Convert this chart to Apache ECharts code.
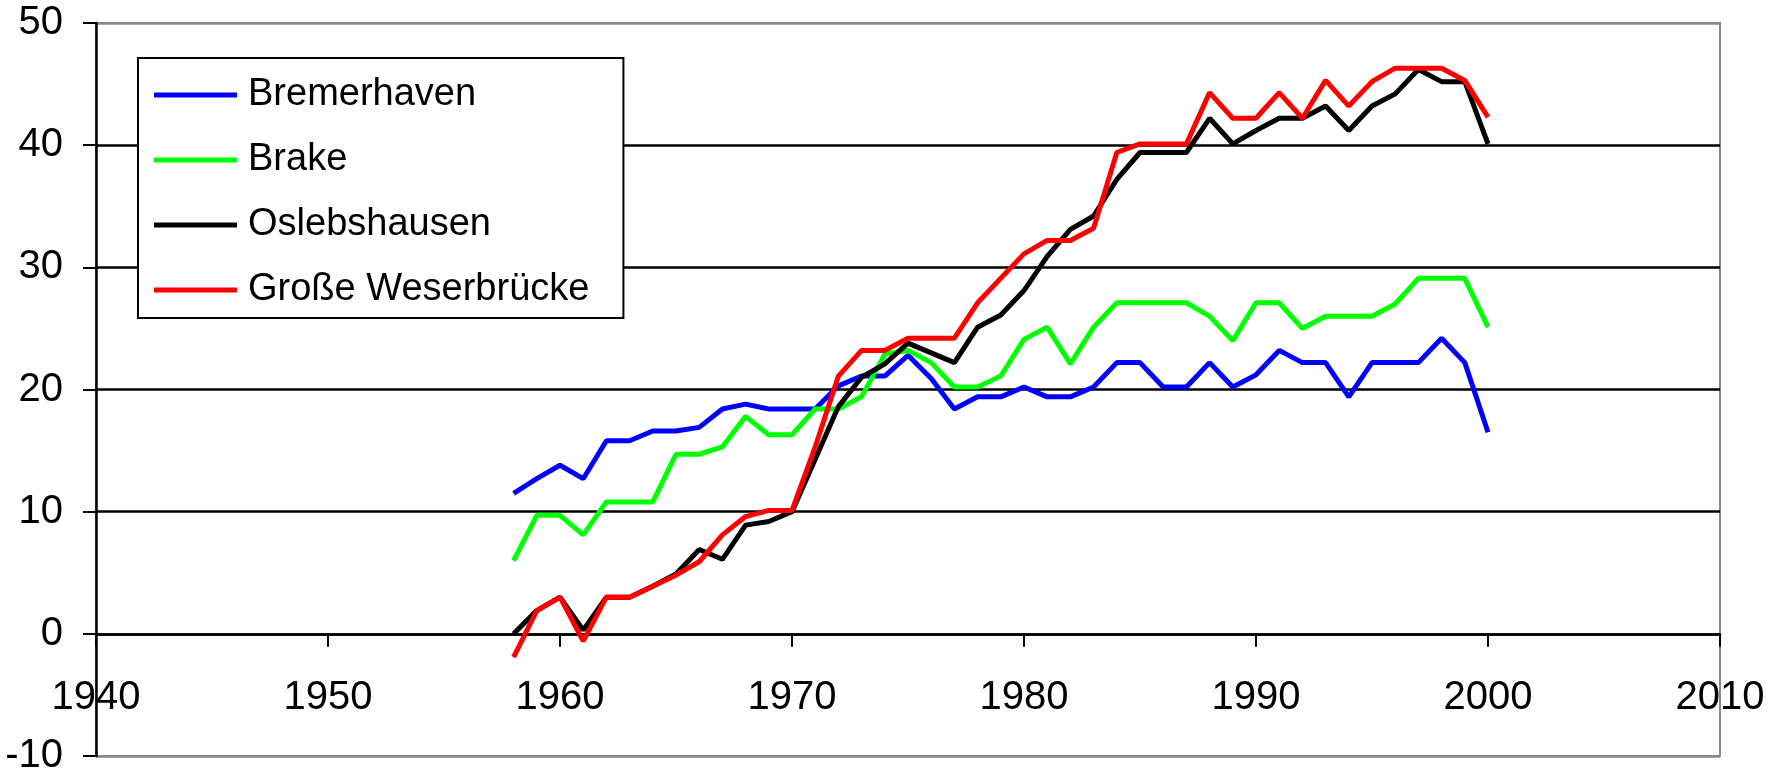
<!DOCTYPE html>
<html>
<head>
<meta charset="utf-8">
<title>Wasserstände</title>
<script src="https://cdn.jsdelivr.net/npm/echarts@6/dist/echarts.min.js"></script>
<style>
  html, body { margin: 0; padding: 0; background: #fff; }
  #chart { width: 1779px; height: 773px; }
</style>
</head>
<body>
<div id="chart"></div>
<script>
// Years of observation
const years = [
  1958, 1959, 1960, 1961, 1962, 1963, 1964, 1965, 1966, 1967,
  1968, 1969, 1970, 1971, 1972, 1973, 1974, 1975, 1976, 1977,
  1978, 1979, 1980, 1981, 1982, 1983, 1984, 1985, 1986, 1987,
  1988, 1989, 1990, 1991, 1992, 1993, 1994, 1995, 1996, 1997,
  1998, 1999, 2000
];

const seriesNames = ['Bremerhaven', 'Brake', 'Oslebshausen', 'Große Weserbrücke'];

const bremerhaven = [
  11.5, 12.7, 13.8, 12.7, 15.8, 15.8, 16.6, 16.6, 16.9, 18.4,
  18.8, 18.4, 18.4, 18.4, 20.3, 21.1, 21.1, 22.8, 20.9, 18.4,
  19.4, 19.4, 20.2, 19.4, 19.4, 20.2, 22.2, 22.2, 20.2, 20.2,
  22.2, 20.2, 21.2, 23.2, 22.2, 22.2, 19.4, 22.2, 22.2, 22.2,
  24.2, 22.2, 16.5
];

const brake = [
  6.0, 9.7, 9.7, 8.1, 10.8, 10.8, 10.8, 14.7, 14.7, 15.3,
  17.8, 16.3, 16.3, 18.4, 18.4, 19.4, 22.9, 23.2, 22.2, 20.2,
  20.2, 21.1, 24.1, 25.1, 22.1, 25.1, 27.1, 27.1, 27.1, 27.1,
  26.0, 24.0, 27.1, 27.1, 25.0, 26.0, 26.0, 26.0, 27.0, 29.1,
  29.1, 29.1, 25.1
];

const oslebshausen = [
  0.0, 1.9, 3.0, 0.3, 3.0, 3.0, 3.9, 4.9, 6.9, 6.1,
  8.9, 9.2, 10.0, 14.3, 18.6, 21.0, 22.1, 23.8, 23.0, 22.2,
  25.1, 26.1, 28.1, 30.9, 33.1, 34.2, 37.2, 39.4, 39.4, 39.4,
  42.2, 40.1, 41.2, 42.2, 42.2, 43.2, 41.2, 43.2, 44.2, 46.2,
  45.2, 45.2, 40.1
];

const grosseWeserbruecke = [
  -1.9, 1.9, 3.0, -0.6, 3.0, 3.0, 3.9, 4.8, 5.9, 8.1,
  9.6, 10.1, 10.1, 15.3, 21.1, 23.2, 23.2, 24.2, 24.2, 24.2,
  27.1, 29.1, 31.1, 32.2, 32.2, 33.2, 39.4, 40.1, 40.1, 40.1,
  44.3, 42.2, 42.2, 44.3, 42.2, 45.3, 43.2, 45.2, 46.3, 46.3,
  46.3, 45.3, 42.3
];

const seriesValues = [bremerhaven, brake, oslebshausen, grosseWeserbruecke];
const seriesColors = ['#0000ff', '#00ff00', '#000000', '#ff0000'];

// y-axis range; the year axis sits on the zero line
const Y_MIN = -10;
const Y_MAX = 50;

const FONT = "'Liberation Sans', Arial, sans-serif";

const GRID = { left: 96, top: 23, width: 1624, height: 733 };
// distance from the bottom of the plot (y = -10) up to y = 0
const zeroOffset = -GRID.height * (0 - Y_MIN) / (Y_MAX - Y_MIN);

const chart = echarts.init(document.getElementById('chart'), null, { renderer: 'canvas' });

chart.setOption({
  animation: false,
  backgroundColor: '#ffffff',
  textStyle: { fontFamily: FONT },
  grid: {
    left: GRID.left,
    top: GRID.top,
    width: GRID.width,
    height: GRID.height,
    outerBoundsMode: 'none',
    containLabel: false,
    show: true,
    borderColor: '#888888',
    borderWidth: 2,
    backgroundColor: 'transparent'
  },
  legend: {
    orient: 'vertical',
    left: 138,
    top: 58,
    backgroundColor: '#ffffff',
    borderColor: '#000000',
    borderWidth: 2,
    borderRadius: 0,
    padding: [18, 34, 9, 16],
    itemGap: 27,
    itemWidth: 83,
    itemHeight: 5,
    icon: 'rect',
    textStyle: {
      fontFamily: FONT,
      fontSize: 38,
      lineHeight: 38,
      color: '#000000',
      padding: [0, 0, 0, 6]
    },
    data: seriesNames
  },
  xAxis: {
    type: 'value',
    min: 1940,
    max: 2010,
    interval: 10,
    offset: zeroOffset,
    axisLine: { show: true, onZero: false, lineStyle: { color: '#000000', width: 2.5 } },
    axisTick: { show: true, inside: false, length: 13, lineStyle: { color: '#000000', width: 2 } },
    axisLabel: {
      fontFamily: FONT,
      fontSize: 40,
      color: '#000000',
      margin: 44,
      formatter: v => String(v)
    },
    splitLine: { show: false }
  },
  yAxis: {
    type: 'value',
    min: Y_MIN,
    max: Y_MAX,
    interval: 10,
    axisLine: { show: true, onZero: false, lineStyle: { color: '#000000', width: 2.5 } },
    axisTick: { show: true, inside: false, length: 13, lineStyle: { color: '#000000', width: 2 } },
    axisLabel: {
      fontFamily: FONT,
      fontSize: 40,
      color: '#000000',
      margin: 33,
      formatter: v => String(v)
    },
    splitLine: {
      show: true,
      lineStyle: {
        color: ['#888888', '#000000', '#000000', '#000000', '#000000', '#000000', '#888888'],
        width: 2.5
      }
    }
  },
  series: seriesNames.map((name, i) => ({
    name: name,
    type: 'line',
    symbol: 'none',
    showSymbol: false,
    color: seriesColors[i],
    lineStyle: { color: seriesColors[i], width: 5 },
    data: years.map((y, k) => [y, seriesValues[i][k]]),
    z: 3 + i
  }))
});
</script>
</body>
</html>
